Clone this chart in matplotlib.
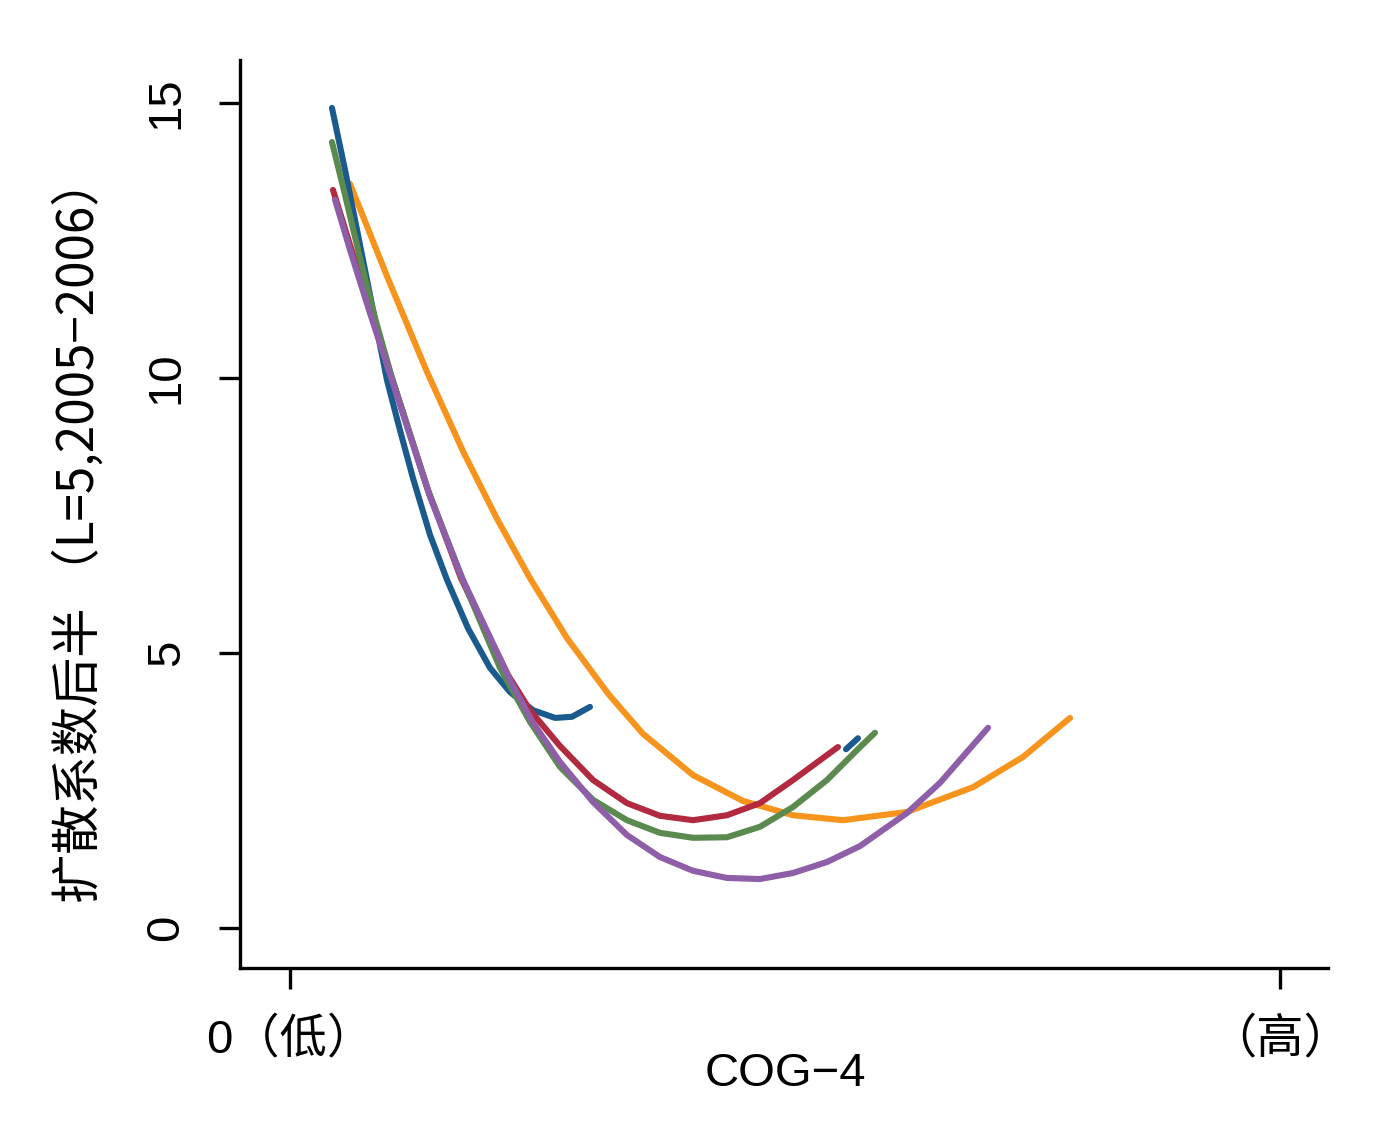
import matplotlib
matplotlib.use("Agg")
import matplotlib.pyplot as plt

plt.rcParams['font.family'] = ['Liberation Sans', 'Noto Sans CJK SC', 'DejaVu Sans']

# ---- data ----
blue_x = [0.0424, 0.0556, 0.0687, 0.0828, 0.0980, 0.1111, 0.1242, 0.1414, 0.1586, 0.1798, 0.2020, 0.2222, 0.2455, 0.2677, 0.2848, 0.3030]
blue_y = [14.91, 13.78, 12.60, 11.33, 9.96, 9.05, 8.18, 7.15, 6.33, 5.45, 4.73, 4.29, 3.96, 3.82, 3.84, 4.02]
blue2_x = [0.5616, 0.5737]
blue2_y = [3.25, 3.45]

red_x = [0.0434, 0.0606, 0.0808, 0.1010, 0.1394, 0.1727, 0.2202, 0.2424, 0.2727, 0.3061, 0.3404, 0.3737, 0.4071, 0.4414, 0.4747, 0.5081, 0.5535]
red_y = [13.42, 12.42, 11.27, 10.11, 7.96, 6.36, 4.60, 3.96, 3.31, 2.69, 2.27, 2.04, 1.96, 2.05, 2.27, 2.69, 3.29]

green_x = [0.0424, 0.0556, 0.0707, 0.0859, 0.1030, 0.1394, 0.1737, 0.2121, 0.2424, 0.2727, 0.3061, 0.3404, 0.3737, 0.4071, 0.4414, 0.4747, 0.5081, 0.5424, 0.5758, 0.5909]
green_y = [14.29, 13.33, 12.18, 11.09, 10.00, 7.96, 6.36, 4.73, 3.75, 2.93, 2.33, 1.96, 1.73, 1.64, 1.65, 1.84, 2.20, 2.69, 3.29, 3.55]

purple_x = [0.0455, 0.0606, 0.0808, 0.1030, 0.1414, 0.1747, 0.2222, 0.2455, 0.2727, 0.3061, 0.3404, 0.3737, 0.4071, 0.4414, 0.4747, 0.5081, 0.5424, 0.5758, 0.6232, 0.6566, 0.7051]
purple_y = [13.24, 12.33, 11.18, 9.96, 7.84, 6.33, 4.51, 3.73, 3.02, 2.29, 1.69, 1.29, 1.04, 0.91, 0.89, 1.00, 1.20, 1.49, 2.09, 2.64, 3.64]

orange_x = [0.0606, 0.0980, 0.1384, 0.1747, 0.2091, 0.2424, 0.2798, 0.3222, 0.3566, 0.4071, 0.4576, 0.5081, 0.5586, 0.6232, 0.6899, 0.7404, 0.7879]
orange_y = [13.53, 11.85, 10.11, 8.67, 7.44, 6.36, 5.27, 4.24, 3.53, 2.78, 2.31, 2.05, 1.96, 2.11, 2.56, 3.11, 3.82]

x_ticks = [0, 1]
x_ticklabels = ['0（低）', '（高）']
y_ticks = [0, 5, 10, 15]
y_ticklabels = ['0', '5', '10', '15']
x_label = 'COG−4'
y_label = '扩散系数后半 （L=5,2005−2006）'

# ---- figure ----
fig = plt.figure(figsize=(13.99, 11.24), dpi=100)
ax = fig.add_axes([240/1399, 1-968/1124, (1328-240)/1399, (968-60)/1124])

kw = dict(lw=4.4, solid_capstyle='round', solid_joinstyle='round')
ax.plot(orange_x, orange_y, color='#f7941d', **kw)
ax.plot(blue_x, blue_y, color='#1b5a8c', **kw)
ax.plot(blue2_x, blue2_y, color='#1b5a8c', **kw)
ax.plot(red_x, red_y, color='#b22a40', **kw)
ax.plot(green_x, green_y, color='#5a8a4e', **kw)
ax.plot(purple_x, purple_y, color='#8e5ea8', **kw)

ax.set_xlim((240-290)/990, (1328-290)/990)
ax.set_ylim((928-968)/55, (928-60)/55)

for s in ['top', 'right']:
    ax.spines[s].set_visible(False)
for s in ['left', 'bottom']:
    ax.spines[s].set_linewidth(2.4)
    ax.spines[s].set_color('black')

ax.set_xticks(x_ticks)
ax.set_xticklabels(x_ticklabels, fontsize=34)
ax.set_yticks(y_ticks)
ax.set_yticklabels(y_ticklabels, fontsize=34, rotation=90, va='center')
ax.tick_params(axis='both', length=15, width=2.4, color='black')
ax.tick_params(axis='y', pad=22)
ax.tick_params(axis='x', pad=21)

fig.text(785/1399, 1-1074/1124, x_label, fontsize=34, ha='center', va='center')
fig.text(80/1399, 1-530/1124, y_label, fontsize=35.5,
         family=['Noto Sans CJK SC', 'DejaVu Sans'],
         rotation=90, ha='center', va='center')

fig.savefig('out.png', dpi=100, facecolor='white')
